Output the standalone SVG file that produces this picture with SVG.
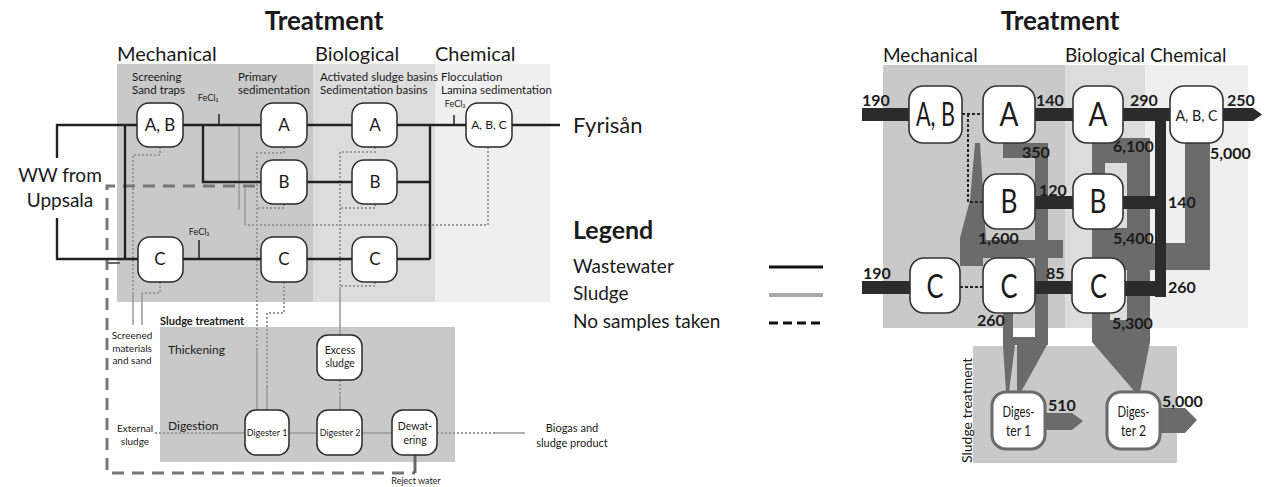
<svg xmlns="http://www.w3.org/2000/svg" width="1266" height="487" viewBox="0 0 1266 487">
  <defs>
    <style>
      .t { font-family: Lato, "Open Sans", sans-serif; fill: #1a1a1a; }
      .b { font-weight: bold; }
      .zone-m { fill: #c9c9c9; }
      .zone-b { fill: #dcdcdc; }
      .zone-c { fill: #efefef; }
      .node { fill: #fff; stroke: #2a2a2a; stroke-width: 1.5; }
      .node-r { fill: #fff; stroke: #333; stroke-width: 1.6; }
      .node-d { fill: #fff; stroke: #6a6a6a; stroke-width: 3; }
      .ww { fill: none; stroke: #222; stroke-width: 2.4; }
      .ww-thin { fill: none; stroke: #222; stroke-width: 1.5; }
      .sl-dot { fill: none; stroke: #999; stroke-width: 2; stroke-dasharray: 2 2; }
      .sl { fill: none; stroke: #999; stroke-width: 1.5; }
      .nosample { fill: none; stroke: #777; stroke-width: 3; stroke-dasharray: 12 8; }
      .bar { fill: #2b2b2b; }
      .band { fill: #6b6b6b; }
      .dotk { fill: none; stroke: #222; stroke-width: 2; stroke-dasharray: 3 2; }
    </style>
  </defs>

  <rect width="1266" height="487" fill="#fff"/>

  <!-- ===== Left: process scheme ===== -->
  <text class="t b" x="324" y="30" font-size="26" text-anchor="middle">Treatment</text>

  <rect class="zone-m" x="117" y="64" width="196" height="238"/>
  <rect class="zone-b" x="313" y="64" width="122" height="238"/>
  <rect class="zone-c" x="435" y="64" width="115" height="238"/>
  <rect class="zone-m" x="160" y="327" width="295" height="135"/>

  <text class="t" x="117" y="61" font-size="20">Mechanical</text>
  <text class="t" x="315" y="61" font-size="20">Biological</text>
  <text class="t" x="435" y="61" font-size="20">Chemical</text>

  <g font-size="11.5">
    <text class="t" x="132" y="81">Screening</text>
    <text class="t" x="132" y="94">Sand traps</text>
    <text class="t" x="238" y="81">Primary</text>
    <text class="t" x="238" y="94">sedimentation</text>
    <text class="t" x="320" y="81">Activated sludge basins</text>
    <text class="t" x="320" y="94">Sedimentation basins</text>
    <text class="t" x="441" y="81">Flocculation</text>
    <text class="t" x="441" y="94">Lamina sedimentation</text>
  </g>
  <g font-size="9">
    <text class="t" x="208" y="101" text-anchor="middle">FeCl₃</text>
    <text class="t" x="199" y="235" text-anchor="middle">FeCl₃</text>
    <text class="t" x="455" y="107" text-anchor="middle">FeCl₃</text>
  </g>

  <text class="t" x="60" y="182" font-size="19" text-anchor="middle">WW from</text>
  <text class="t" x="60" y="207" font-size="19" text-anchor="middle">Uppsala</text>
  <text class="t" x="573" y="133" font-size="22">Fyrisån</text>

  <g font-size="10">
    <text class="t" x="132" y="339" text-anchor="middle">Screened</text>
    <text class="t" x="132" y="352" text-anchor="middle">materials</text>
    <text class="t" x="132" y="364" text-anchor="middle">and sand</text>
    <text class="t" x="135" y="432" text-anchor="middle">External</text>
    <text class="t" x="135" y="445" text-anchor="middle">sludge</text>
    <text class="t" x="572" y="432" font-size="11" text-anchor="middle">Biogas and</text>
    <text class="t" x="572" y="447" font-size="11" text-anchor="middle">sludge product</text>
    <text class="t" x="416" y="484" font-size="9" text-anchor="middle">Reject water</text>
  </g>
  <text class="t b" x="160" y="325" font-size="11">Sludge treatment</text>
  <text class="t" x="168" y="354" font-size="12">Thickening</text>
  <text class="t" x="168" y="430" font-size="12">Digestion</text>

  <!-- connectors of the left scheme -->
  <g id="left-connectors">
    <!-- sludge: dotted where not sampled, solid where sampled -->
    <path class="sl-dot" d="M160,147 V155 H133 V293"/>
    <path class="sl" d="M133,293 V325"/>
    <path class="sl-dot" d="M160,282 V293 H142"/>
    <path class="sl" d="M142,293 V325"/>
    <path class="sl-dot" d="M284,147 V153 H257 V350"/>
    <path class="sl-dot" d="M284,204 V208 H257"/>
    <path class="sl" d="M257,350 V410"/>
    <path class="sl-dot" d="M284,282 V313 H267 V387"/>
    <path class="sl" d="M267,387 V410"/>
    <path class="sl-dot" d="M375,147 V152 H340 V287"/>
    <path class="sl-dot" d="M375,204 V208 H340"/>
    <path class="sl-dot" d="M375,282 V286 H340"/>
    <path class="sl" d="M340,287 V335"/>
    <path class="sl-dot" d="M488,147 V225 H245"/>
    <path class="sl" d="M245,225 V187"/>
    <path class="sl" d="M239,127 V210"/>
    <path class="sl-dot" d="M340,380 V395"/>
    <path class="sl" d="M340,395 V410"/>
    <path class="sl" d="M289,433 H317"/>
    <path class="sl" d="M362,433 H392"/>
    <path class="sl-dot" d="M437,433 H495"/>
    <path class="sl" d="M495,433 H525"/>
    <path class="sl-dot" d="M155,433 H212"/>
    <path class="sl" d="M212,433 H245"/>

    <!-- reject water / no samples taken -->
    <path class="nosample" d="M255,186 H107 V473 H415"/>
    <path fill="none" stroke="#666" stroke-width="3" d="M415,473 V455"/>
    <path fill="none" stroke="#666" stroke-width="2" d="M107,263 H120"/>

    <!-- wastewater -->
    <path class="ww" d="M137,125 H57 V158"/>
    <path class="ww" d="M57,218 V259 H138"/>
    <path class="ww" d="M125,125 V259"/>
    <path class="ww" d="M183,125 H261"/>
    <path class="ww-thin" d="M219,114 V125"/>
    <path class="ww" d="M203,125 V182 H261"/>
    <path class="ww" d="M307,125 H352"/>
    <path class="ww" d="M307,182 H352"/>
    <path class="ww" d="M183,259 H261"/>
    <path class="ww-thin" d="M199,240 V259"/>
    <path class="ww" d="M307,259 H352"/>
    <path class="ww" d="M397,125 H466"/>
    <path class="ww-thin" d="M454,115 V125"/>
    <path class="ww" d="M430,125 V259"/>
    <path class="ww" d="M397,182 H430"/>
    <path class="ww" d="M397,259 H430"/>
    <path class="ww" d="M512,125 H560"/>
  </g>

  <g id="node-ab" font-size="17"><rect class="node" x="137" y="103" width="46" height="44" rx="12"/><text class="t" x="160" y="131" text-anchor="middle">A, B</text></g>
  <g id="node-a1" font-size="17"><rect class="node" x="261" y="103" width="46" height="44" rx="12"/><text class="t" x="284" y="131" text-anchor="middle">A</text></g>
  <g id="node-a2" font-size="17"><rect class="node" x="352" y="103" width="45" height="44" rx="12"/><text class="t" x="375" y="131" text-anchor="middle">A</text></g>
  <g id="node-abc" font-size="12"><rect class="node" x="466" y="103" width="46" height="44" rx="12"/><text class="t" x="489" y="129" text-anchor="middle">A, B, C</text></g>
  <g id="node-b1" font-size="17"><rect class="node" x="261" y="160" width="46" height="44" rx="12"/><text class="t" x="284" y="188" text-anchor="middle">B</text></g>
  <g id="node-b2" font-size="17"><rect class="node" x="352" y="160" width="45" height="44" rx="12"/><text class="t" x="375" y="188" text-anchor="middle">B</text></g>
  <g id="node-c0" font-size="17"><rect class="node" x="138" y="237" width="45" height="45" rx="12"/><text class="t" x="160" y="265" text-anchor="middle">C</text></g>
  <g id="node-c1" font-size="17"><rect class="node" x="261" y="237" width="46" height="45" rx="12"/><text class="t" x="284" y="265" text-anchor="middle">C</text></g>
  <g id="node-c2" font-size="17"><rect class="node" x="352" y="237" width="45" height="45" rx="12"/><text class="t" x="375" y="265" text-anchor="middle">C</text></g>
  <g id="node-excess" font-size="10.5"><rect class="node" x="317" y="335" width="45" height="45" rx="11"/><text class="t" x="340" y="354" text-anchor="middle">Excess</text><text class="t" x="340" y="367" text-anchor="middle">sludge</text></g>
  <g id="node-dig1" font-size="9"><rect class="node" x="245" y="410" width="44" height="45" rx="11"/><text class="t" x="267" y="436" text-anchor="middle">Digester 1</text></g>
  <g id="node-dig2" font-size="9"><rect class="node" x="317" y="410" width="45" height="45" rx="11"/><text class="t" x="340" y="436" text-anchor="middle">Digester 2</text></g>
  <g id="node-dewat" font-size="10.5"><rect class="node" x="392" y="410" width="45" height="45" rx="11"/><text class="t" x="415" y="430" text-anchor="middle">Dewat-</text><text class="t" x="415" y="444" text-anchor="middle">ering</text></g>

  <!-- ===== Legend ===== -->
  <g id="legend">
    <text class="t b" x="573" y="239" font-size="25">Legend</text>
    <text class="t" x="573" y="273" font-size="19">Wastewater</text>
    <text class="t" x="573" y="300" font-size="19">Sludge</text>
    <text class="t" x="573" y="328" font-size="19">No samples taken</text>
    <line x1="769" y1="267" x2="823" y2="267" stroke="#111" stroke-width="3"/>
    <line x1="769" y1="295" x2="823" y2="295" stroke="#aaa" stroke-width="4"/>
    <line x1="769" y1="323" x2="823" y2="323" stroke="#111" stroke-width="3" stroke-dasharray="9 5"/>
  </g>

  <!-- ===== Right: measured flows ===== -->
  <text class="t b" x="1060" y="30" font-size="26" text-anchor="middle">Treatment</text>
  <rect class="zone-m" x="883" y="65" width="182" height="263"/>
  <rect class="zone-b" x="1065" y="65" width="80" height="263"/>
  <rect class="zone-c" x="1145" y="65" width="103" height="263"/>
  <rect class="zone-m" x="973" y="346" width="204" height="117"/>
  <text class="t" x="883" y="62" font-size="19">Mechanical</text>
  <text class="t" x="1065" y="62" font-size="19">Biological Chemical</text>
  <text class="t" x="0" y="0" font-size="14" transform="translate(972,463) rotate(-90)">Sludge treatment</text>

  <g id="right-connectors">
    <!-- sludge bands -->
    <path class="band" d="M1003,143 H1048 V345 H1003 V313 H1013 V337 H1035 V158 H1003 Z"/>
    <path class="band" d="M1003,345 H1015 L1009,392 H1006 Z"/>
    <path class="band" d="M1017,345 H1047 L1021,392 H1017 Z"/>
    <path class="band" d="M975,143 H980 L986,240 H1063 V258 H983 V266 H960 V238 L970,200 Z"/>
    <path class="band" d="M1092,138 H1150 V342 H1092 V313 H1110 V320 H1127 V163 H1105 V175 H1092 Z"/>
    <path class="band" d="M1092,228 H1150 V270 H1092 Z"/>
    <path class="band" d="M1185,143 H1210 V270 H1150 V243 H1185 Z"/>
    <path class="band" d="M1092,342 H1150 L1140,392 H1135 Z"/>
    <path class="band" d="M1045,413 H1072 L1083,421 L1072,430 H1045 Z"/>
    <path class="band" d="M1160,408 H1185 L1197,420 L1185,433 H1160 Z"/>

    <!-- wastewater bars -->
    <rect class="bar" x="862" y="108" width="47" height="13"/>
    <rect class="bar" x="1035" y="108" width="38" height="13"/>
    <rect class="bar" x="1123" y="108" width="47" height="13"/>
    <path class="bar" d="M1223,108 H1253 L1262,114.5 L1253,121 H1223 Z"/>
    <rect class="bar" x="1155" y="108" width="11" height="189"/>
    <rect class="bar" x="1035" y="196" width="38" height="13"/>
    <rect class="bar" x="1123" y="196" width="43" height="13"/>
    <rect class="bar" x="862" y="281" width="48" height="13"/>
    <rect class="bar" x="1035" y="281" width="37" height="13"/>
    <rect class="bar" x="1125" y="281" width="41" height="15"/>

    <!-- bypass without sampling -->
    <path class="dotk" d="M962,114 H983 M968,114 V202 H983 M960,287 H983"/>
  </g>

  <g id="node-r-ab"><rect class="node-r" x="909" y="86" width="53" height="57" rx="14"/><text class="t" x="935.5" y="126" font-size="33" text-anchor="middle" textLength="39" lengthAdjust="spacingAndGlyphs">A, B</text></g>
  <g id="node-r-a1"><rect class="node-r" x="983" y="86" width="52" height="57" rx="14"/><text class="t" x="1009" y="126" font-size="33" text-anchor="middle" textLength="19" lengthAdjust="spacingAndGlyphs">A</text></g>
  <g id="node-r-a2"><rect class="node-r" x="1073" y="86" width="50" height="57" rx="14"/><text class="t" x="1098" y="126" font-size="33" text-anchor="middle" textLength="19" lengthAdjust="spacingAndGlyphs">A</text></g>
  <g id="node-r-abc"><rect class="node-r" x="1170" y="86" width="53" height="57" rx="14"/><text class="t" x="1196.5" y="121" font-size="16" text-anchor="middle" textLength="42" lengthAdjust="spacingAndGlyphs">A, B, C</text></g>
  <g id="node-r-b1"><rect class="node-r" x="983" y="174" width="52" height="55" rx="14"/><text class="t" x="1009" y="213" font-size="33" text-anchor="middle" textLength="17" lengthAdjust="spacingAndGlyphs">B</text></g>
  <g id="node-r-b2"><rect class="node-r" x="1073" y="174" width="50" height="55" rx="14"/><text class="t" x="1098" y="213" font-size="33" text-anchor="middle" textLength="17" lengthAdjust="spacingAndGlyphs">B</text></g>
  <g id="node-r-c0"><rect class="node-r" x="910" y="258" width="50" height="55" rx="14"/><text class="t" x="935" y="298" font-size="33" text-anchor="middle" textLength="17" lengthAdjust="spacingAndGlyphs">C</text></g>
  <g id="node-r-c1"><rect class="node-r" x="983" y="258" width="52" height="55" rx="14"/><text class="t" x="1009" y="298" font-size="33" text-anchor="middle" textLength="17" lengthAdjust="spacingAndGlyphs">C</text></g>
  <g id="node-r-c2"><rect class="node-r" x="1072" y="258" width="53" height="55" rx="14"/><text class="t" x="1098.5" y="298" font-size="33" text-anchor="middle" textLength="17" lengthAdjust="spacingAndGlyphs">C</text></g>
  <g id="node-r-dig1"><rect class="node-d" x="992" y="392" width="53" height="57" rx="14"/><text class="t" x="1018.5" y="417" font-size="15" text-anchor="middle" textLength="32" lengthAdjust="spacingAndGlyphs">Diges-</text><text class="t" x="1018.5" y="436" font-size="15" text-anchor="middle" textLength="25" lengthAdjust="spacingAndGlyphs">ter 1</text></g>
  <g id="node-r-dig2"><rect class="node-d" x="1107" y="392" width="53" height="57" rx="14"/><text class="t" x="1133.5" y="417" font-size="15" text-anchor="middle" textLength="32" lengthAdjust="spacingAndGlyphs">Diges-</text><text class="t" x="1133.5" y="436" font-size="15" text-anchor="middle" textLength="25" lengthAdjust="spacingAndGlyphs">ter 2</text></g>

  <!-- flow figures -->
  <g class="t b" font-size="16">
    <text class="t b" x="862" y="106">190</text>
    <text class="t b" x="1036" y="106">140</text>
    <text class="t b" x="1130" y="106">290</text>
    <text class="t b" x="1227" y="106">250</text>
    <text class="t b" x="1022" y="158">350</text>
    <text class="t b" x="1113" y="152">6,100</text>
    <text class="t b" x="1210" y="159">5,000</text>
    <text class="t b" x="1039" y="196">120</text>
    <text class="t b" x="1168" y="208">140</text>
    <text class="t b" x="978" y="244">1,600</text>
    <text class="t b" x="1113" y="244">5,400</text>
    <text class="t b" x="863" y="279">190</text>
    <text class="t b" x="1046" y="279">85</text>
    <text class="t b" x="1168" y="293">260</text>
    <text class="t b" x="977" y="326">260</text>
    <text class="t b" x="1112" y="329">5,300</text>
    <text class="t b" x="1048" y="411">510</text>
    <text class="t b" x="1162" y="407">5,000</text>
  </g>
</svg>
